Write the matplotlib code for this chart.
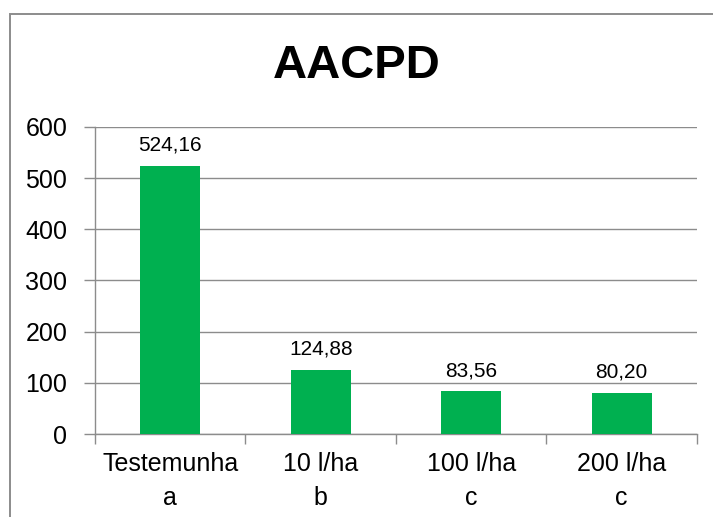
import matplotlib
matplotlib.use("Agg")
import matplotlib.pyplot as plt
from matplotlib.patches import Rectangle

categories = ["Testemunha\na", "10 l/ha\nb", "100 l/ha\nc", "200 l/ha\nc"]
values = [524.16, 124.88, 83.56, 80.20]
yticks = [0, 100, 200, 300, 400, 500, 600]

plt.rcParams['font.family'] = ['Liberation Sans', 'DejaVu Sans']

fig = plt.figure(figsize=(7.13, 5.17), dpi=100)
ax = fig.add_axes([0.1332, 0.1605, 0.8443, 0.594])

x = list(range(len(categories)))
bars = ax.bar(x, values, width=0.4, color='#00B050', zorder=3)

ax.set_xlim(-0.5, len(categories) - 0.5)
ax.set_ylim(0, 600)
ax.set_yticks(yticks)
ax.set_yticklabels([str(v) for v in yticks], fontsize=18)
ax.yaxis.grid(True, color='#8c8c8c', linewidth=1.0, zorder=0)

ax.set_xticks([i - 0.5 for i in range(len(categories) + 1)])
ax.set_xticklabels([])
ax.set_xticks(x, minor=True)
ax.set_xticklabels(categories, minor=True, fontsize=18, linespacing=1.5)
ax.tick_params(axis='x', which='minor', length=0, pad=13)
ax.tick_params(axis='x', which='major', length=7, width=1, color='#8c8c8c', direction='out')
ax.tick_params(axis='y', length=8, width=1, color='#8c8c8c', direction='out', pad=12)

for s in ['top', 'right']:
    ax.spines[s].set_visible(False)
for s in ['left', 'bottom']:
    ax.spines[s].set_color('#8c8c8c')
    ax.spines[s].set_linewidth(1.0)

for xi, v in zip(x, values):
    ax.annotate(f"{v:.2f}".replace('.', ','), (xi, v), xytext=(0, 8),
                textcoords='offset points', ha='center', va='bottom', fontsize=15)

fig.text(0.5, 0.873, "AACPD", ha='center', va='center', fontsize=34, fontweight='bold')

fig.patches.append(Rectangle((9.5 / 713, -0.05), 1.0, 1.05 - 14 / 517,
                             transform=fig.transFigure, fill=False,
                             edgecolor='#8c8c8c', linewidth=1.4))

fig.savefig("out.png", dpi=100)
